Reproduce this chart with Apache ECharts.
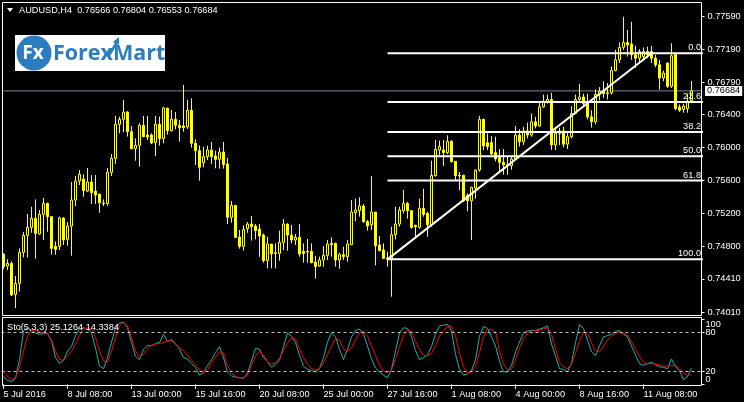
<!DOCTYPE html>
<html><head><meta charset="utf-8">
<script src="https://cdn.jsdelivr.net/npm/echarts@6.0.0/dist/echarts.min.js"></script>
<style>html,body{margin:0;padding:0;background:#000;}#c{width:744px;height:402px;}</style>
</head><body><div id="c"></div>
<script>
const symbolName = 'AUDUSD,H4';
const opens = [0.74711,0.74566,0.74598,0.74223,0.74356,0.74731,0.74937,0.75034,0.75143,0.74953,
0.75191,0.75324,0.75163,0.74804,0.74804,0.75147,0.74889,0.7505,0.75364,0.75594,
0.75619,0.75473,0.75582,0.75473,0.75437,0.75328,0.7532,0.75699,0.75868,0.7628,
0.7634,0.76429,0.76191,0.75985,0.76026,0.76268,0.76151,0.76151,0.76058,0.7628,
0.76106,0.76477,0.76203,0.7634,0.76268,0.7626,0.76247,0.76449,0.7605,0.75961,
0.75816,0.75889,0.75969,0.75897,0.75856,0.75945,0.758,0.75155,0.753,0.74917,
0.74804,0.75018,0.75074,0.7505,0.75014,0.74941,0.74631,0.74832,0.74727,0.74719,
0.74852,0.75074,0.74941,0.74881,0.74913,0.74744,0.74744,0.74744,0.74615,0.74566,
0.74639,0.74695,0.7484,0.7484,0.74639,0.74703,0.7468,0.74824,0.75211,0.75236,
0.75292,0.75106,0.75066,0.75219,0.7482,0.7476,0.74647,0.74655,0.74945,0.75074,
0.75236,0.75324,0.75236,0.75058,0.75034,0.75264,0.75203,0.75066,0.75659,0.75969,
0.75969,0.75937,0.76074,0.75832,0.75663,0.75663,0.75421,0.75355,0.7551,0.75727,
0.7634,0.76058,0.76058,0.75937,0.7588,0.7582,0.7579,0.7578,0.7586,0.7615,
0.7607,0.7620,0.7615,0.7631,0.7626,0.7649,0.7655,0.7658,0.7603,0.7617,
0.7620,0.7604,0.7613,0.7641,0.7658,0.7661,0.7653,0.7637,0.7631,0.7664,
0.7668,0.7665,0.7666,0.7693,0.7706,0.7721,0.7727,0.7725,0.7712,0.7708,
0.7710,0.7716,0.7716,0.7708,0.7700,0.7684,0.7702,0.7674,0.7713,0.7649,
0.7646,0.7647,0.76566];
const highs = [0.74719,0.74647,0.74623,0.74445,0.7478,0.74977,0.75195,0.75284,0.75372,0.75243,
0.75389,0.75332,0.75171,0.74864,0.75163,0.75155,0.75098,0.75582,0.75655,0.75727,
0.75675,0.75752,0.75667,0.75667,0.75437,0.75372,0.75752,0.75921,0.76381,0.76373,
0.76574,0.76441,0.7626,0.7611,0.76292,0.76381,0.76381,0.76171,0.76381,0.76373,
0.76493,0.76477,0.76453,0.76429,0.76332,0.76756,0.76574,0.76594,0.76098,0.76026,
0.7601,0.76022,0.76066,0.75961,0.75998,0.76066,0.75873,0.75352,0.753,0.75002,
0.75058,0.75098,0.75171,0.75074,0.75074,0.74961,0.74921,0.74832,0.7484,0.74994,
0.75135,0.75082,0.75062,0.74953,0.75074,0.7484,0.74893,0.7484,0.74687,0.7468,
0.74808,0.74881,0.74913,0.74848,0.74727,0.748,0.74881,0.75364,0.7538,0.75397,
0.75316,0.75123,0.75655,0.75219,0.74929,0.7484,0.7474,0.75042,0.75284,0.75284,
0.75485,0.7534,0.75244,0.75066,0.7538,0.75502,0.75219,0.7584,0.7609,0.76082,
0.7609,0.76147,0.7609,0.75836,0.75703,0.75671,0.75445,0.75526,0.75735,0.76381,
0.76348,0.76171,0.76139,0.76131,0.7598,0.7598,0.7589,0.7589,0.7626,0.7622,
0.7625,0.7630,0.7641,0.7637,0.7655,0.7664,0.7664,0.7666,0.7625,0.7624,
0.7625,0.7618,0.7650,0.7664,0.7677,0.7665,0.7665,0.7645,0.7670,0.7673,
0.7680,0.7678,0.7698,0.7718,0.7727,0.7758,0.7742,0.7752,0.7723,0.7719,
0.7721,0.7722,0.7723,0.7712,0.7706,0.7693,0.7703,0.7726,0.7713,0.7652,
0.7653,0.7665,0.76804];
const lows = [0.74526,0.74518,0.74203,0.74058,0.74256,0.74671,0.74671,0.74969,0.74655,0.74945,
0.74881,0.74981,0.74703,0.74703,0.7476,0.7482,0.74812,0.74691,0.75292,0.75546,
0.75405,0.75461,0.75316,0.75316,0.75211,0.75292,0.75292,0.75655,0.758,0.76171,
0.76183,0.76131,0.75977,0.7584,0.75768,0.76123,0.7609,0.7604,0.75897,0.76022,
0.7605,0.76155,0.76191,0.76219,0.7607,0.76191,0.76223,0.75998,0.75788,0.75598,
0.7576,0.75848,0.758,0.75748,0.75744,0.75744,0.75074,0.7509,0.74909,0.74776,
0.74752,0.74969,0.74873,0.74889,0.74679,0.74607,0.74538,0.74538,0.74538,0.74631,
0.7476,0.74752,0.7484,0.7482,0.74679,0.74607,0.74607,0.74599,0.74413,0.74558,
0.74558,0.74639,0.7468,0.74558,0.74534,0.74639,0.74618,0.7482,0.75106,0.75163,
0.7509,0.74994,0.75002,0.74574,0.74744,0.74651,0.74558,0.74195,0.74889,0.75042,
0.75203,0.75139,0.75018,0.74921,0.75018,0.75163,0.74921,0.75042,0.75647,0.75909,
0.75776,0.75921,0.75816,0.75606,0.75485,0.7534,0.75227,0.74881,0.75381,0.75707,
0.75969,0.75969,0.75909,0.75832,0.7570,0.7567,0.7567,0.7573,0.7585,0.7601,
0.7603,0.7611,0.7613,0.7623,0.7625,0.7648,0.7653,0.7597,0.7597,0.7603,
0.7600,0.7598,0.7611,0.7640,0.7655,0.7649,0.7634,0.7624,0.7628,0.7657,
0.7660,0.7658,0.7664,0.7692,0.7702,0.7718,0.7710,0.7706,0.7696,0.7702,
0.7705,0.7708,0.7702,0.7697,0.7670,0.7680,0.7672,0.7672,0.7645,0.7643,
0.7642,0.7642,0.76553];
const closes = [0.74558,0.74598,0.74215,0.74356,0.74731,0.74937,0.75034,0.75143,0.74961,0.75191,
0.75324,0.75163,0.7478,0.74768,0.75147,0.74881,0.7505,0.75364,0.75594,0.75675,
0.75477,0.75582,0.75453,0.75425,0.75332,0.7532,0.75699,0.75868,0.7628,0.7634,
0.76429,0.76191,0.75985,0.76026,0.76268,0.76131,0.76127,0.76054,0.7628,0.76106,
0.76477,0.76203,0.7634,0.76268,0.76239,0.76239,0.76449,0.7605,0.75961,0.7576,
0.75889,0.75969,0.75889,0.75856,0.75945,0.75792,0.75155,0.753,0.74913,0.74804,
0.7501,0.75074,0.75042,0.74994,0.74929,0.74631,0.74832,0.74711,0.74719,0.74852,
0.75074,0.74941,0.74881,0.74913,0.74711,0.74719,0.74736,0.74607,0.74558,0.74639,
0.74695,0.74832,0.74824,0.74639,0.74703,0.7468,0.74832,0.75219,0.75244,0.75292,
0.75102,0.7505,0.75219,0.74812,0.74752,0.74659,0.74663,0.74945,0.75074,0.75244,
0.75324,0.75236,0.75034,0.75042,0.75264,0.75191,0.75066,0.75663,0.75977,0.7601,
0.75937,0.76074,0.75828,0.75659,0.75655,0.75355,0.75355,0.75518,0.75727,0.7634,
0.76018,0.7601,0.75921,0.75864,0.7582,0.7579,0.7578,0.7586,0.7615,0.7607,
0.7620,0.7615,0.7631,0.7626,0.7649,0.7656,0.7658,0.7603,0.7617,0.7620,
0.7604,0.7613,0.7641,0.7658,0.7661,0.7653,0.7637,0.7631,0.7664,0.7668,
0.7665,0.7666,0.7693,0.7706,0.7721,0.7727,0.7724,0.7712,0.7708,0.7716,
0.7716,0.7712,0.7708,0.7700,0.7684,0.7690,0.7674,0.7711,0.7647,0.7645,
0.7650,0.7656,0.76684];
const stochMain = [12,6,4,9,38,82,87,83,79,77,78,78,67,41,32,37,51,58,75,85,
87,85,79,56,28,24,41,65,86,94,96,87,64,43,38,54,60,59,63,64,
77,66,69,62,54,41,39,32,26,14,18,29,38,49,58,41,19,13,11,10,
9,17,36,55,54,41,35,26,31,37,58,79,74,64,45,28,23,21,19,24,
41,65,79,73,54,38,54,73,83,85,77,59,39,25,19,14,10,23,51,79,
87,86,73,52,38,41,45,58,77,90,91,92,82,46,23,14,16,21,38,74,
89,86,73,59,36,19,19,29,50,65,79,82,83,83,85,87,90,62,44,24,
23,19,33,64,92,86,68,50,44,59,73,75,77,81,83,77,73,59,45,32,
29,32,34,30,27,26,24,39,27,21,7,12,25.1264];
const stochSignal = [21,12,7,10,26,51,74,84,83,81,79,78,68,51,38,37,44,51,62,75,
85,87,86,72,51,36,34,51,72,90,95,90,72,51,42,46,55,60,62,63,
64,67,67,62,56,52,45,37,30,22,18,22,33,42,50,48,29,18,12,10,
10,14,29,44,50,45,35,31,33,40,52,64,71,69,55,41,31,24,22,24,
33,46,59,70,68,54,51,56,68,79,82,74,59,44,30,21,18,22,38,58,
75,84,81,66,53,45,44,47,60,74,82,90,89,74,48,27,18,19,27,49,
73,85,84,81,51,31,22,23,38,56,70,79,82,82,83,85,87,77,54,34,
27,24,31,48,67,81,79,64,51,50,59,68,74,78,81,79,75,65,54,43,
34,31,32,31,30,28,28,29,29,24,17,14,14.3384];
const stochLevels = [20, 80];
const stochTicks = [0, 20, 80, 100];
const stochInnerLabels = [20, 80];
const stochEdgeLabels = [0, 100];
const priceTicks = [0.77590,0.77190,0.76790,0.76400,0.76000,0.75600,0.75200,0.74800,0.74410,0.74010];
const dateTickLabels = ['5 Jul 2016','8 Jul 08:00','13 Jul 00:00','15 Jul 16:00','20 Jul 08:00','25 Jul 00:00','27 Jul 16:00','1 Aug 08:00','4 Aug 00:00','8 Aug 16:00','11 Aug 08:00'];
const fibPrices = [0.77139,0.76551,0.76187,0.75893,0.75599,0.74647];
const fibLabels = ['0.0','23.6','38.2','50.0','61.8','100.0'];
const fibStartBar = 96;
const trendBars = [96, 162];
const trendPrices = [0.74647, 0.77139];
const slotCount = 175;
const labelEvery = 16;
const priceMin = 0.73968, priceMax = 0.77753;
// the edge labels (0 and 100) sit pulled inside the panel, as in the terminal
const edgeLabelAxisMin = -9.69, edgeLabelAxisMax = 108.5;

const FONT = '"Liberation Sans", Arial, sans-serif';
const FS = 9.2;
const cats = Array.from({length: slotCount}, (_, i) => String(i));
const candles = opens.map((o, i) => [o, closes[i], lows[i], highs[i]]);
const n = closes.length;
const lastClose = closes[n - 1];
const fmt5 = v => v.toFixed(5);
const leftEdge = -0.5, rightEdge = slotCount - 0.5;

const fibSeries = fibPrices.map((p, j) => ({
  type: 'line', xAxisIndex: 0, yAxisIndex: 0, z: 4, clip: false,
  data: [[fibStartBar, p], [rightEdge, p]],
  symbol: 'none',
  lineStyle: {color: '#ffffff', width: 2},
  endLabel: {show: true, formatter: () => fibLabels[j], align: 'right', verticalAlign: 'bottom',
    distance: 0, offset: [-2, -1], color: '#ffffff', fontSize: FS, fontFamily: FONT},
  silent: true, animation: false
}));

const chart = echarts.init(document.getElementById('c'), null, {renderer: 'canvas'});
chart.setOption({
  backgroundColor: '#000000',
  animation: false,
  grid: [
    {left: 1.5, top: 2.5, width: 700, height: 313, show: false},
    {left: 1.5, top: 319.3, width: 700, height: 65, show: false}
  ],
  xAxis: [
    {type: 'category', gridIndex: 0, data: cats, boundaryGap: true, show: false},
    {type: 'category', gridIndex: 1, data: cats, boundaryGap: true,
      axisLine: {show: false},
      axisTick: {show: true, interval: labelEvery - 1, alignWithLabel: true, length: 4.5, lineStyle: {color: '#ffffff'}},
      axisLabel: {interval: labelEvery - 1, align: 'left', margin: 6, color: '#ffffff', fontSize: FS, fontFamily: FONT,
        formatter: (v, i) => (i % labelEvery === 0 && dateTickLabels[i / labelEvery]) ? dateTickLabels[i / labelEvery] : ''}
    }
  ],
  yAxis: [
    {type: 'value', gridIndex: 0, position: 'right', min: priceMin, max: priceMax,
      splitLine: {show: false}, axisLine: {show: false},
      axisTick: {show: true, customValues: priceTicks, length: 3, lineStyle: {color: '#ffffff'}},
      axisLabel: {customValues: priceTicks, formatter: v => fmt5(v), color: '#ffffff', fontSize: FS, fontFamily: FONT, margin: 6}
    },
    {type: 'value', gridIndex: 1, position: 'right', min: 0, max: 100,
      splitLine: {show: false}, axisLine: {show: false},
      axisTick: {show: true, customValues: stochTicks, length: 3, lineStyle: {color: '#ffffff'}},
      axisLabel: {customValues: stochInnerLabels, color: '#ffffff', fontSize: FS, fontFamily: FONT, margin: 4}
    },
    {type: 'value', gridIndex: 1, position: 'right', min: edgeLabelAxisMin, max: edgeLabelAxisMax,
      splitLine: {show: false}, axisLine: {show: false}, axisTick: {show: false},
      axisLabel: {customValues: stochEdgeLabels, color: '#ffffff', fontSize: FS, fontFamily: FONT, margin: 4}
    }
  ],
  series: [
    {type: 'line', xAxisIndex: 0, yAxisIndex: 0, z: 2, clip: false, silent: true,
      data: [[leftEdge, lastClose], [rightEdge, lastClose]], symbol: 'none',
      lineStyle: {color: '#778899', width: 1},
      endLabel: {show: true, formatter: () => fmt5(lastClose), distance: 3,
        backgroundColor: '#ffffff', color: '#000000', padding: [1, 2, 0, 2], fontSize: FS, fontFamily: FONT}},
    {type: 'candlestick', xAxisIndex: 0, yAxisIndex: 0, data: candles, barWidth: 2, z: 3,
      itemStyle: {color: '#000000', color0: '#ffff00', borderColor: '#ffff00', borderColor0: '#ffff00', borderColorDoji: '#ffff00', borderWidth: 1}
    },
    {type: 'line', xAxisIndex: 0, yAxisIndex: 0, z: 5, silent: true,
      data: [[trendBars[0], trendPrices[0]], [trendBars[1], trendPrices[1]]],
      symbol: 'none', lineStyle: {color: '#ffffff', width: 2}},
    ...fibSeries,
    {type: 'line', xAxisIndex: 1, yAxisIndex: 1, data: stochMain, symbol: 'none', silent: true,
      lineStyle: {color: '#20b2aa', width: 1},
      markLine: {silent: true, symbol: ['none', 'none'], label: {show: false},
        lineStyle: {color: '#c0c0c0', width: 1, type: [3, 3]},
        data: stochLevels.map(v => ({yAxis: v}))}},
    {type: 'line', xAxisIndex: 1, yAxisIndex: 1, data: stochSignal, symbol: 'none', silent: true,
      lineStyle: {color: '#ff0000', width: 1}}
  ],
  graphic: [
    {type: 'rect', z: 100, silent: true, shape: {x: 2.5, y: 2.5, width: 699, height: 313}, style: {fill: 'none', stroke: '#ffffff', lineWidth: 1}},
    {type: 'rect', z: 100, silent: true, shape: {x: 2.5, y: 317.5, width: 699, height: 68}, style: {fill: 'none', stroke: '#ffffff', lineWidth: 1}},
    {type: 'polygon', z: 100, shape: {points: [[7, 8], [13, 8], [10, 12]]}, style: {fill: '#ffffff'}},
    {type: 'text', z: 100, x: 19, y: 10, style: {text: symbolName + '  ' + [opens[n-1], highs[n-1], lows[n-1], closes[n-1]].map(fmt5).join(' '),
      fill: '#ffffff', font: FS + 'px ' + FONT, verticalAlign: 'middle', align: 'left'}},
    {type: 'rect', z: 100, shape: {x: 15, y: 35, width: 150, height: 36}, style: {fill: '#ffffff'}},
    {type: 'circle', z: 101, shape: {cx: 34, cy: 53, r: 17.5}, style: {fill: '#2b7dc0'}},
    {type: 'text', z: 102, x: 33, y: 54, style: {text: 'Fx', fill: '#ffffff', font: 'bold 19px "Open Sans", sans-serif', align: 'center', verticalAlign: 'middle'}},
    {type: 'text', z: 102, x: 53, y: 54, style: {text: 'ForexMart', fill: '#2b7dc0', font: 'bold 21.5px "Open Sans", sans-serif', align: 'left', verticalAlign: 'middle'}},
    {type: 'polyline', z: 103, shape: {points: [[108, 57], [117, 42]]}, style: {stroke: '#2b7dc0', lineWidth: 2.5, fill: 'none'}},
    {type: 'polygon', z: 103, shape: {points: [[113, 42], [119, 37], [119, 45]]}, style: {fill: '#2b7dc0'}},
    {type: 'text', z: 100, x: 7, y: 327, style: {text: 'Sto(5,3,3) ' + stochMain[n-1].toFixed(4) + ' ' + stochSignal[n-1].toFixed(4),
      fill: '#ffffff', font: FS + 'px ' + FONT, verticalAlign: 'middle', align: 'left'}}
  ]
});
</script></body></html>
